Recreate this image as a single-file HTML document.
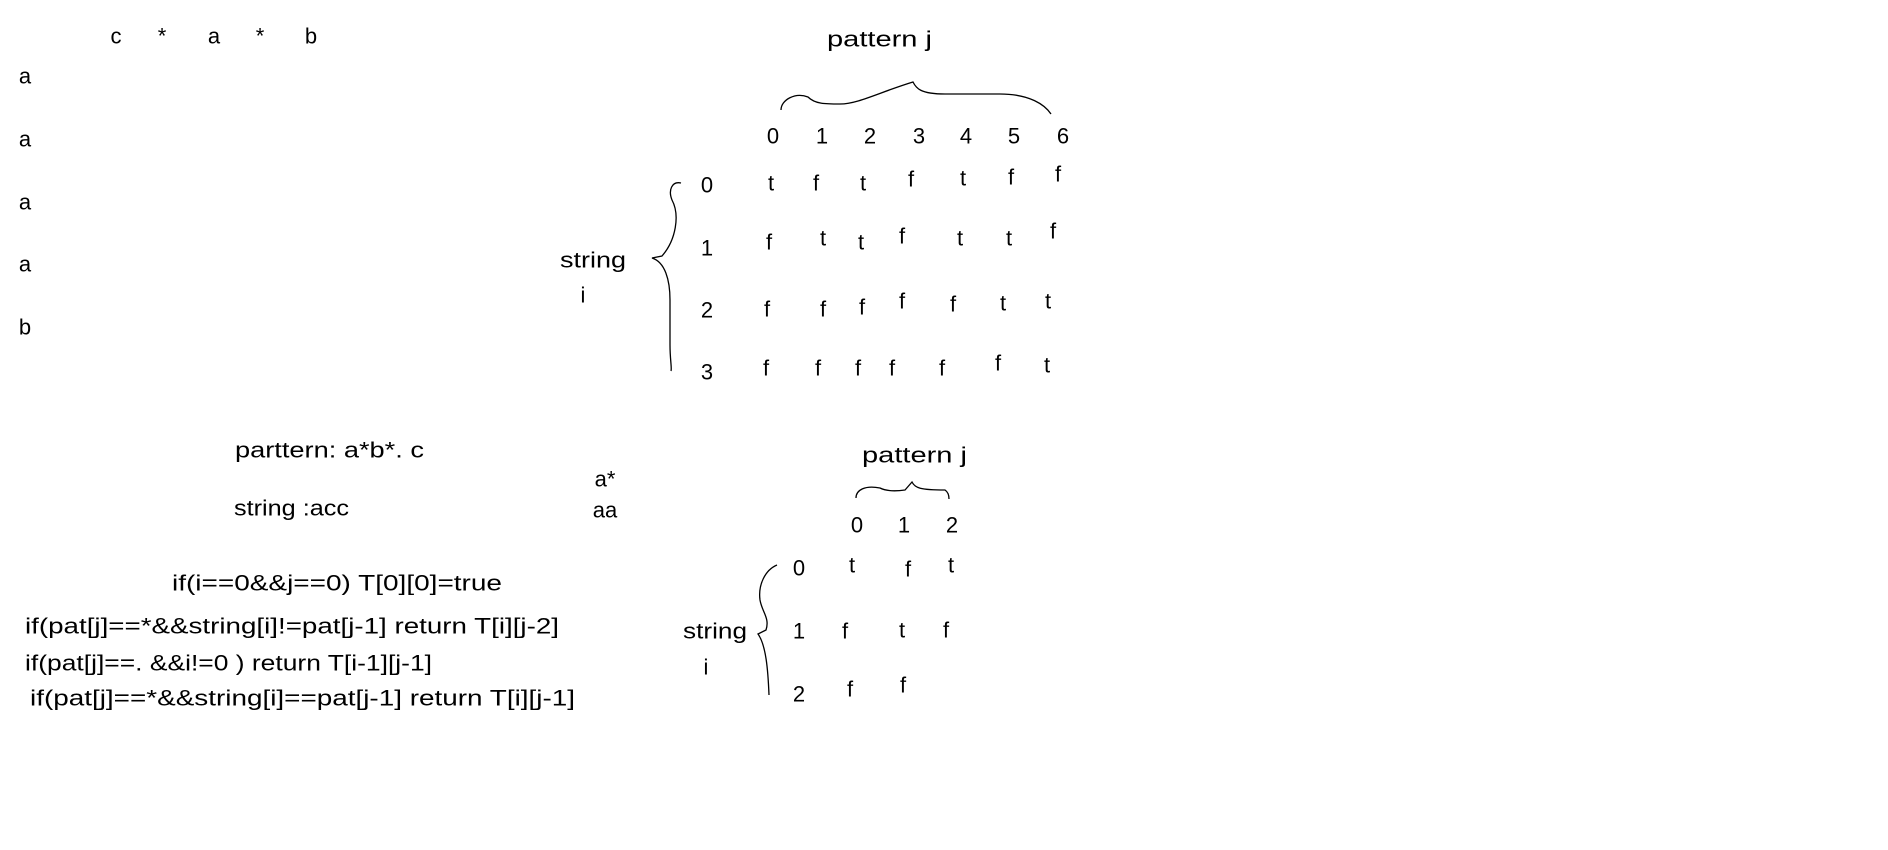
<!DOCTYPE html>
<html><head><style>html,body{margin:0;padding:0;background:#fff;}svg{display:block}</style></head>
<body>
<svg width="1888" height="850" xmlns="http://www.w3.org/2000/svg" font-family="Liberation Sans, DejaVu Sans, sans-serif" font-size="22" fill="#000">
<g text-anchor="middle" dominant-baseline="central">
<text x="116" y="36">c</text><text x="162" y="36">*</text><text x="214" y="36">a</text><text x="260" y="36">*</text><text x="311" y="36">b</text>
<text x="25" y="76">a</text><text x="25" y="139">a</text><text x="25" y="202">a</text><text x="25" y="264">a</text><text x="25" y="327">b</text>
<text x="773" y="136">0</text><text x="822" y="136">1</text><text x="870" y="136">2</text><text x="919" y="136">3</text><text x="966" y="136">4</text><text x="1014" y="136">5</text><text x="1063" y="136">6</text>
<text x="707" y="185">0</text><text x="707" y="248">1</text><text x="707" y="310">2</text><text x="707" y="372">3</text>
<text x="771" y="183">t</text><text x="816" y="183">f</text><text x="863" y="183">t</text><text x="911" y="179">f</text><text x="963" y="178">t</text><text x="1011" y="177">f</text><text x="1058" y="174">f</text>
<text x="769" y="242">f</text><text x="823" y="238">t</text><text x="861" y="242">t</text><text x="902" y="236">f</text><text x="960" y="238">t</text><text x="1009" y="238">t</text><text x="1053" y="231">f</text>
<text x="767" y="309">f</text><text x="823" y="309">f</text><text x="862" y="307">f</text><text x="902" y="301">f</text><text x="953" y="304">f</text><text x="1003" y="303">t</text><text x="1048" y="301">t</text>
<text x="766" y="368">f</text><text x="818" y="368">f</text><text x="858" y="368">f</text><text x="892" y="368">f</text><text x="942" y="368">f</text><text x="998" y="363">f</text><text x="1047" y="365">t</text>
<text x="583" y="295">i</text>
<text x="857" y="525">0</text><text x="904" y="525">1</text><text x="952" y="525">2</text>
<text x="799" y="568">0</text><text x="799" y="631">1</text><text x="799" y="694">2</text>
<text x="852" y="565">t</text><text x="908" y="569">f</text><text x="951" y="565">t</text>
<text x="845" y="631">f</text><text x="902" y="630">t</text><text x="946" y="630">f</text>
<text x="850" y="689">f</text><text x="903" y="685">f</text>
<text x="706" y="667">i</text>
<text x="605" y="479">a*</text><text x="605" y="510">aa</text>
</g>
<g dominant-baseline="central" lengthAdjust="spacingAndGlyphs">
<text x="827" y="39" textLength="105" lengthAdjust="spacingAndGlyphs">pattern  j</text>
<text x="862" y="455" textLength="105" lengthAdjust="spacingAndGlyphs">pattern  j</text>
<text x="560" y="260" textLength="66" lengthAdjust="spacingAndGlyphs">string</text>
<text x="683" y="631" textLength="64" lengthAdjust="spacingAndGlyphs">string</text>
<text x="235" y="450" textLength="189" lengthAdjust="spacingAndGlyphs">parttern:  a*b*. c</text>
<text x="234" y="508" textLength="115" lengthAdjust="spacingAndGlyphs">string :acc</text>
<text x="172" y="583" textLength="330" lengthAdjust="spacingAndGlyphs">if(i==0&amp;&amp;j==0) T[0][0]=true</text>
<text x="25" y="626" textLength="534" lengthAdjust="spacingAndGlyphs">if(pat[j]==*&amp;&amp;string[i]!=pat[j-1] return T[i][j-2]</text>
<text x="25" y="663" textLength="407" lengthAdjust="spacingAndGlyphs">if(pat[j]==. &amp;&amp;i!=0 ) return T[i-1][j-1]</text>
<text x="30" y="698" textLength="545" lengthAdjust="spacingAndGlyphs">if(pat[j]==*&amp;&amp;string[i]==pat[j-1] return T[i][j-1]</text>
</g>
<g fill="none" stroke="#000" stroke-width="1.3">
<path d="M781,110 C781,100 795,92 808,97 C815,104 825,104 840,104 C858,104 880,92 913,82 C916,88 920,94 945,94 L1000,94 C1030,94 1045,105 1051,114"/>
<path d="M681,183 C672,181 668,190 672,200 C680,215 676,240 662,256 L652,258 C665,262 670,280 670,300 L670,345 C670,360 672,368 671,371"/>
<path d="M856,498 C856,490 865,485 880,488 C888,492 898,491 905,490 L912,482 C915,488 920,490 945,490 C948,492 949,495 949,499"/>
<path d="M777,565 C765,570 758,585 760,600 C762,612 770,618 766,630 L758,634 C766,645 768,670 769,695"/>
</g>
</svg>
</body></html>
